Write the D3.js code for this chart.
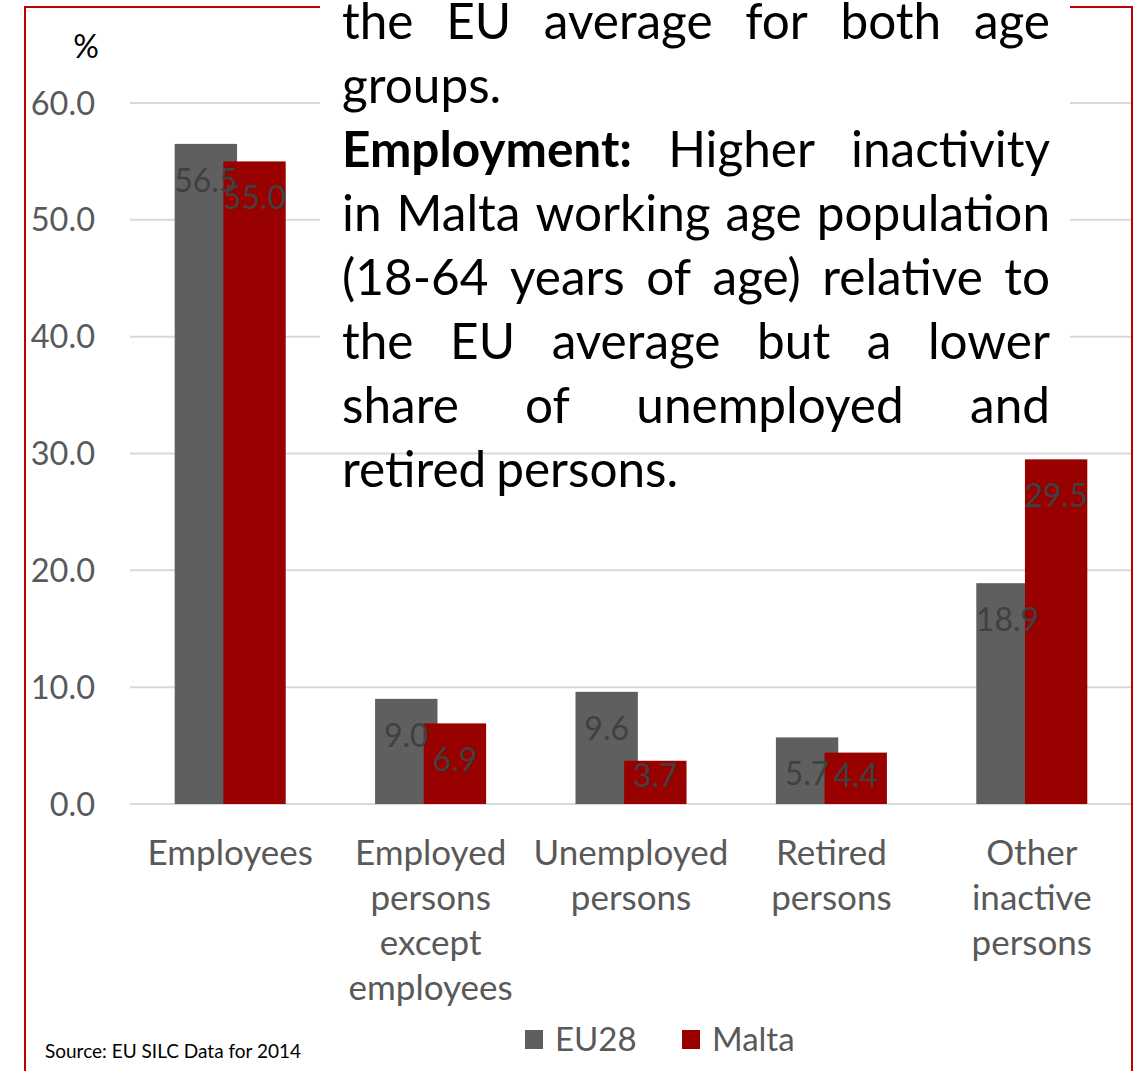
<!DOCTYPE html>
<html>
<head>
<meta charset="utf-8">
<script src="https://cdn.jsdelivr.net/npm/d3@7"></script>
<style>
  html, body { margin: 0; padding: 0; background: #fff; }
  svg { display: block; font-family: Lato, "Open Sans", sans-serif; }
</style>
</head>
<body>
<svg id="chart" width="1138" height="1071"></svg>
<script>
// Activity status of the population, 18-64, 2014 (%)
const categories = ["Employees", "Employed persons except employees", "Unemployed persons", "Retired persons", "Other inactive persons"];
const seriesNames = ["EU28", "Malta"];
const eu28Values = [56.5, 9.0, 9.6, 5.7, 18.9];
const maltaValues = [55.0, 6.9, 3.7, 4.4, 29.5];
const yTicks = [0, 10, 20, 30, 40, 50, 60];
const seriesColors = ["#5f5f5f", "#990000"];

// Commentary box lines (last lines of each paragraph are left aligned)
const noteLines = [
  { runs: [{ t: "the EU average for both age" }], justify: true },
  { runs: [{ t: "groups." }], justify: false },
  { runs: [{ t: "Employment:", b: true }, { t: "Higher inactivity" }], justify: true },
  { runs: [{ t: "in Malta working age population" }], justify: true },
  { runs: [{ t: "(18-64 years of age) relative to" }], justify: true },
  { runs: [{ t: "the EU average but a lower" }], justify: true },
  { runs: [{ t: "share of unemployed and" }], justify: true },
  { runs: [{ t: "retired persons." }], justify: false }
];
const sourceText = "Source: EU SILC Data for 2014";

const svg = d3.select("#chart");
const W = 1138, H = 1071;
const frame = "#c00000";

const plot = { left: 130, right: 1132, top: 103, bottom: 804 };

const x = d3.scaleBand().domain(categories).range([plot.left, plot.right]);
const y = d3.scaleLinear().domain([0, 60]).range([plot.bottom, plot.top]);

// gridlines
svg.append("g").selectAll("line").data(yTicks).join("line")
  .attr("x1", plot.left).attr("x2", plot.right)
  .attr("y1", d => y(d)).attr("y2", d => y(d))
  .attr("stroke", "#d9d9d9").attr("stroke-width", 2);

// y axis tick labels
svg.append("g").selectAll("text").data(yTicks).join("text")
  .attr("x", 95).attr("y", d => y(d) + 11.5)
  .attr("text-anchor", "end")
  .attr("font-size", 32.5).attr("fill", "#595959")
  .text(d => d.toFixed(1));

svg.append("text").attr("x", 86).attr("y", 58).attr("text-anchor", "middle")
  .attr("font-size", 32).attr("fill", "#000").text("%");

// clustered bars with overlap
const groupWidth = x.step() * 0.554;
const overlap = 0.22;
const barW = groupWidth / (2 - overlap);
const seriesOffset = i => -groupWidth / 2 + i * barW * (1 - overlap);

const series = seriesNames.map((name, i) => ({
  name, color: seriesColors[i],
  values: (i === 0 ? eu28Values : maltaValues).map((v, j) => ({ cat: categories[j], v }))
}));

const barsG = svg.append("g");
series.forEach((s, i) => {
  barsG.append("g").selectAll("rect").data(s.values).join("rect")
    .attr("x", d => x(d.cat) + x.bandwidth() / 2 + seriesOffset(i))
    .attr("width", barW)
    .attr("y", d => y(d.v))
    .attr("height", d => y(0) - y(d.v))
    .attr("fill", s.color);
});

// data labels, inside end
const labelsG = svg.append("g");
series.forEach((s, i) => {
  labelsG.append("g").selectAll("text").data(s.values).join("text")
    .attr("x", d => x(d.cat) + x.bandwidth() / 2 + seriesOffset(i) + barW / 2)
    .attr("y", d => Math.min(y(d.v) + 48, y(0) - 17))
    .attr("text-anchor", "middle")
    .attr("font-size", 32).attr("fill", "#404040")
    .text(d => d.v.toFixed(1));
});

// category labels, one word per line
const catG = svg.append("g");
categories.forEach(c => {
  const t = catG.append("text")
    .attr("text-anchor", "middle").attr("font-size", 35).attr("fill", "#595959");
  c.split(" ").forEach((w, k) => {
    t.append("tspan").attr("x", x(c) + x.bandwidth() / 2).attr("y", 865 + k * 45).text(w);
  });
});

// legend
const legend = svg.append("g");
const legendX = [525, 682];
series.forEach((s, i) => {
  legend.append("rect").attr("x", legendX[i]).attr("y", 1030).attr("width", 18).attr("height", 19).attr("fill", s.color);
  legend.append("text").attr("x", legendX[i] + 30).attr("y", 1051)
    .attr("font-size", 33).attr("fill", "#595959").text(s.name);
});

// source
svg.append("text").attr("x", 45).attr("y", 1058).attr("font-size", 19)
  .attr("fill", "#000").text(sourceText);

// outer frame
svg.append("path")
  .attr("d", `M25,${H} V7 H1132 V${H}`)
  .attr("fill", "none").attr("stroke", frame).attr("stroke-width", 2);

// commentary box
const box = svg.append("g");
box.append("rect").attr("x", 320).attr("y", 0).attr("width", 750).attr("height", 440).attr("fill", "#fff");
const noteLeft = 342, noteRight = 1050, noteSize = 49.5;
noteLines.forEach((line, li) => {
  const baseY = 39 + li * 64;
  const words = [];
  line.runs.forEach(r => r.t.split(" ").forEach(w => words.push({ w, b: !!r.b })));
  const nodes = words.map(wd => box.append("text")
    .attr("y", baseY).attr("font-size", noteSize)
    .attr("font-weight", wd.b ? 700 : 400).attr("fill", "#000").text(wd.w));
  const widths = nodes.map(n => n.node().getComputedTextLength());
  const total = d3.sum(widths);
  const gap = line.justify && words.length > 1
    ? (noteRight - noteLeft - total) / (words.length - 1)
    : noteSize * 0.2;
  let cx = noteLeft;
  nodes.forEach((n, k) => { n.attr("x", cx); cx += widths[k] + gap; });
});
</script>
</body>
</html>
